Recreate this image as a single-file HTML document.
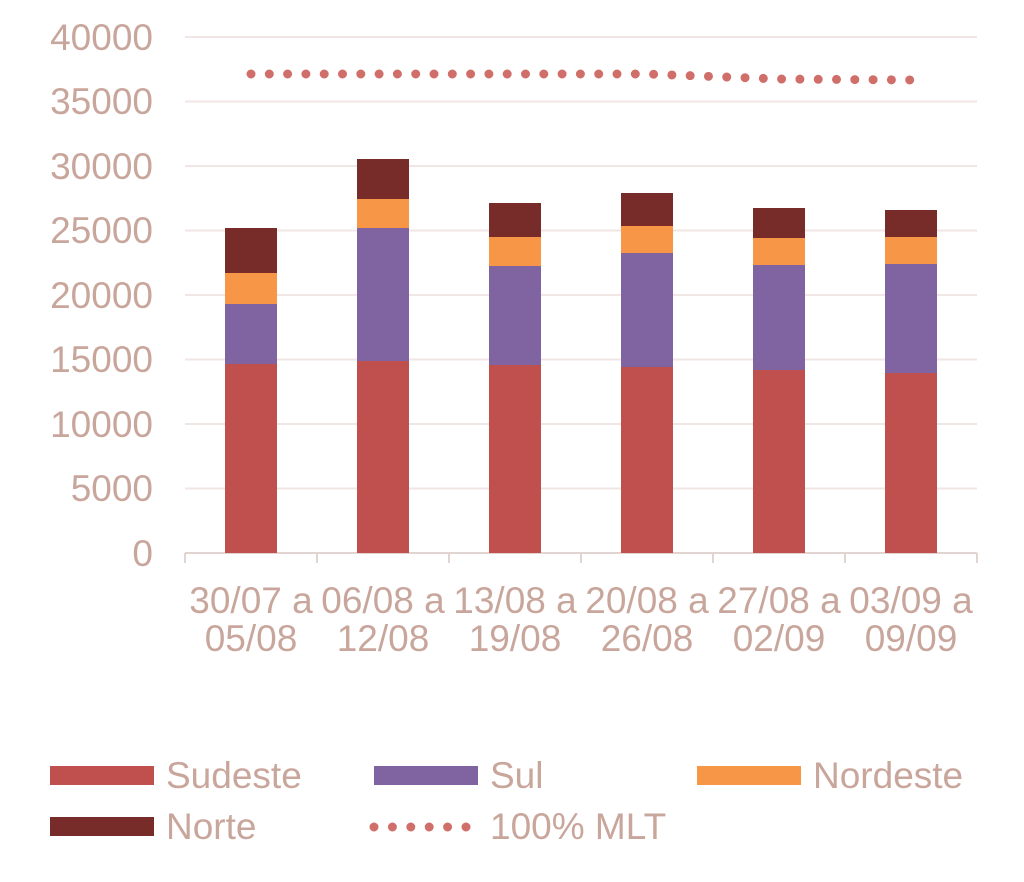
<!DOCTYPE html>
<html><head><style>body{margin:0;background:#fff}svg text{font-family:"Liberation Sans",sans-serif;fill:#C9A69C}</style></head><body>
<svg width="1024" height="877" xmlns="http://www.w3.org/2000/svg">
<g stroke="#F0E6E4" stroke-width="2">
<line x1="185" x2="977" y1="37" y2="37"/><line x1="185" x2="977" y1="101.5" y2="101.5"/><line x1="185" x2="977" y1="166" y2="166"/><line x1="185" x2="977" y1="230.5" y2="230.5"/><line x1="185" x2="977" y1="295" y2="295"/><line x1="185" x2="977" y1="359.5" y2="359.5"/><line x1="185" x2="977" y1="424" y2="424"/><line x1="185" x2="977" y1="488.5" y2="488.5"/>
</g>
<g stroke="#E2D4D0" stroke-width="2"><line x1="185" x2="977" y1="553" y2="553"/>
<line x1="185" x2="185" y1="553" y2="563"/><line x1="317" x2="317" y1="553" y2="563"/><line x1="449" x2="449" y1="553" y2="563"/><line x1="581" x2="581" y1="553" y2="563"/><line x1="713" x2="713" y1="553" y2="563"/><line x1="845" x2="845" y1="553" y2="563"/><line x1="977" x2="977" y1="553" y2="563"/></g>
<g font-size="37" text-anchor="end">
<text x="153" y="50">40000</text><text x="153" y="114">35000</text><text x="153" y="179">30000</text><text x="153" y="243">25000</text><text x="153" y="308">20000</text><text x="153" y="372">15000</text><text x="153" y="437">10000</text><text x="153" y="501">5000</text><text x="153" y="566">0</text>
</g>
<g>
<rect x="225" y="364" width="52" height="189" fill="#C0504D"/><rect x="225" y="304" width="52" height="60" fill="#8064A2"/><rect x="225" y="273" width="52" height="31" fill="#F79646"/><rect x="225" y="228" width="52" height="45" fill="#772C2A"/>
<rect x="357" y="361" width="52" height="192" fill="#C0504D"/><rect x="357" y="228" width="52" height="133" fill="#8064A2"/><rect x="357" y="199" width="52" height="29" fill="#F79646"/><rect x="357" y="159" width="52" height="40" fill="#772C2A"/>
<rect x="489" y="365" width="52" height="188" fill="#C0504D"/><rect x="489" y="266" width="52" height="99" fill="#8064A2"/><rect x="489" y="237" width="52" height="29" fill="#F79646"/><rect x="489" y="203" width="52" height="34" fill="#772C2A"/>
<rect x="621" y="367" width="52" height="186" fill="#C0504D"/><rect x="621" y="253" width="52" height="114" fill="#8064A2"/><rect x="621" y="226" width="52" height="27" fill="#F79646"/><rect x="621" y="193" width="52" height="33" fill="#772C2A"/>
<rect x="753" y="370" width="52" height="183" fill="#C0504D"/><rect x="753" y="265" width="52" height="105" fill="#8064A2"/><rect x="753" y="238" width="52" height="27" fill="#F79646"/><rect x="753" y="208" width="52" height="30" fill="#772C2A"/>
<rect x="885" y="373" width="52" height="180" fill="#C0504D"/><rect x="885" y="264" width="52" height="109" fill="#8064A2"/><rect x="885" y="237" width="52" height="27" fill="#F79646"/><rect x="885" y="210" width="52" height="27" fill="#772C2A"/>
</g>
<polyline points="251,74 647,74 779,79 911,80" fill="none" stroke="#D06E6A" stroke-width="9" stroke-linecap="round" stroke-dasharray="0 18.3"/>
<g font-size="37" text-anchor="middle">
<text x="251" y="613">30/07 a</text><text x="251" y="651">05/08</text>
<text x="383" y="613">06/08 a</text><text x="383" y="651">12/08</text>
<text x="515" y="613">13/08 a</text><text x="515" y="651">19/08</text>
<text x="647" y="613">20/08 a</text><text x="647" y="651">26/08</text>
<text x="779" y="613">27/08 a</text><text x="779" y="651">02/09</text>
<text x="911" y="613">03/09 a</text><text x="911" y="651">09/09</text>
</g>
<rect x="50" y="766" width="104" height="19" fill="#C0504D"/><text x="166" y="788" font-size="37">Sudeste</text>
<rect x="374" y="766" width="104" height="19" fill="#8064A2"/><text x="490" y="788" font-size="37">Sul</text>
<rect x="697" y="766" width="104" height="19" fill="#F79646"/><text x="813" y="788" font-size="37">Nordeste</text>
<rect x="50" y="817" width="104" height="19" fill="#772C2A"/><text x="166" y="839" font-size="37">Norte</text>
<line x1="374" x2="466" y1="827" y2="827" stroke="#D06E6A" stroke-width="9" stroke-linecap="round" stroke-dasharray="0 18.4"/><text x="490" y="839" font-size="37">100% MLT</text>
</svg>
</body></html>
